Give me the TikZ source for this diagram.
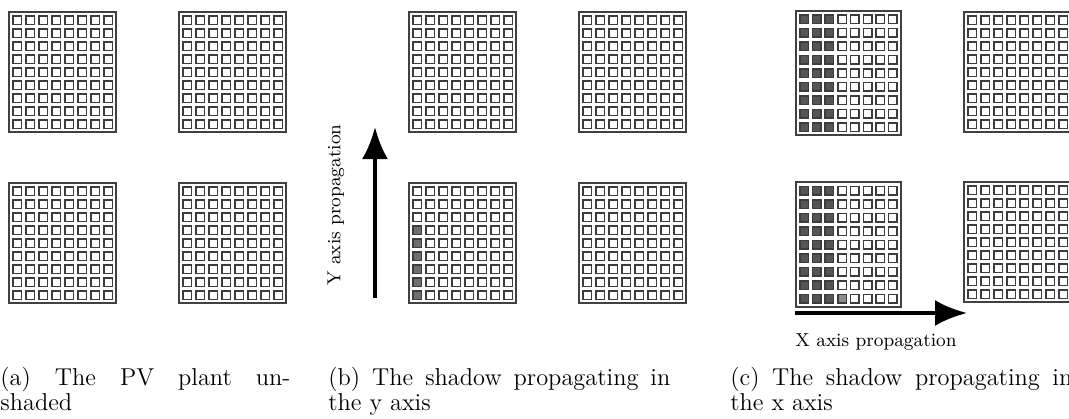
\documentclass[tikz,border=0pt]{standalone}
\usepackage{tikz}
\usetikzlibrary{positioning, arrows.meta}
\definecolor{CellEdge}{RGB}{60, 60, 60}
\definecolor{ShadeDark}{RGB}{85, 85, 85}
\definecolor{ShadeMid}{RGB}{110, 110, 110}
\definecolor{ShadeLight}{RGB}{140, 140, 140}

\tikzset{
  panelbox/.style={draw=black!75, line width=0.55pt},
  cell/.style={draw=CellEdge, line width=0.75pt, fill=white},
  propagation/.style={line width=2pt, -{Latex[length=16pt, width=13pt]}},
  axislabel/.style={inner sep=0pt, font=\fontsize{9.4}{11}\selectfont},
  subcaption/.style={anchor=north west, inner sep=0pt, align=justify,
    font=\fontsize{12.2}{12.3}\selectfont}
}

% block of modules: corner x, y, width, height, pitch x, pitch y
\newcommand{\pvblock}[6]{%
  \draw[panelbox] (#1,#2) rectangle ++(#3,#4);
  \foreach \c in {0,...,7}
    \foreach \r in {0,...,8}
      {\draw[cell] ({#1+(#3-7*#5-8.5)/2+#5*\c},{#2+(#4-8*#6-8.5)/2+#6*\r})
         rectangle ++(8.5,8.5);}
}
% shaded module: same six values, then column, row, colour
\newcommand{\pvshade}[9]{%
  \draw[cell, fill=#9] ({#1+(#3-7*#5-8.5)/2+#5*#7},{#2+(#4-8*#6-8.5)/2+#6*#8})
    rectangle ++(8.5,8.5);
}

\begin{document}
\begin{tikzpicture}[x=0.5pt, y=-0.5pt]
    \clip (0,0) rectangle (1069,418);

    % (a) unshaded plant
    \begin{scope}
      \pvblock{9}{12}{107}{120}{13}{13}
      \pvblock{179}{12}{107}{120}{13}{13}
      \pvblock{9}{183}{107}{120}{13}{13}
      \pvblock{179}{183}{107}{120}{13}{13}
      \node[subcaption, text width=145pt] (capa) at (0,367)
        {(a) The PV plant un-\linebreak shaded};
    \end{scope}

    % (b) shadow along y
    \begin{scope}
      \pvblock{409}{12}{107}{120}{13}{13}
      \pvblock{579}{12}{107}{120}{13}{13}
      \pvblock{409}{183}{107}{120}{13}{13}
      \pvblock{579}{183}{107}{120}{13}{13}
      \foreach \r in {3,...,8}
        {\pvshade{409}{183}{107}{120}{13}{13}{0}{\r}{ShadeMid}}

      \coordinate (ytail) at (375,298);
      \coordinate (yhead) at (375,127);
      \draw[propagation] (ytail) -- (yhead);
      \node[axislabel, rotate=90] (ylabel) at (336,205) {Y axis propagation};

      \node[subcaption, text width=171pt] (capb) at (328,367)
        {(b) The shadow propagating in the y axis};
    \end{scope}

    % (c) shadow along x
    \begin{scope}
      \pvblock{796}{11}{105}{124}{12.7}{13.5}
      \pvblock{796}{182}{105}{125}{12.7}{13.5}
      \foreach \c in {0,1,2}
        \foreach \r in {0,...,8}
          {\pvshade{796}{11}{105}{124}{12.7}{13.5}{\c}{\r}{ShadeDark}
           \pvshade{796}{182}{105}{125}{12.7}{13.5}{\c}{\r}{ShadeDark}}
      \pvshade{796}{182}{105}{125}{12.7}{13.5}{3}{8}{ShadeLight}
      \pvblock{964}{12}{107}{120}{13}{13}
      \pvblock{964}{182}{107}{120}{13}{13}

      \coordinate (xtail) at (795,313);
      \coordinate (xhead) at (967,313);
      \draw[propagation] (xtail) -- (xhead);
      \node[axislabel] (xlabel) at (876,342) {X axis propagation};

      \node[subcaption, text width=171pt] (capc) at (730,367)
        {(c) The shadow propagating in the x axis};
    \end{scope}
\end{tikzpicture}
\end{document}
